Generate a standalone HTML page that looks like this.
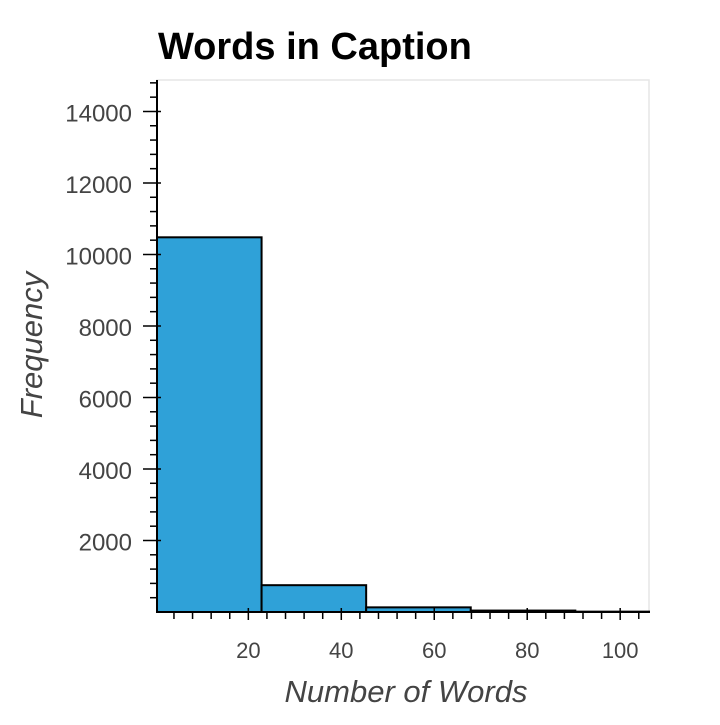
<!DOCTYPE html>
<html><head><meta charset="utf-8"><style>
body{margin:0;background:#fff;}
svg text{font-family:"Liberation Sans",Arial,sans-serif;}
</style></head><body>
<svg id="chart" width="720" height="720">
<text x="158" y="59" font-size="38" font-weight="bold" fill="#000">Words in Caption</text>
<rect x="157" y="80" width="492" height="532" fill="none" stroke="#e6e6e6" stroke-width="1.5"/>
<g id="bars"></g><g id="axes"></g>
<text x="406" y="702" font-size="31" font-style="italic" fill="#444" text-anchor="middle">Number of Words</text>
<text transform="translate(42,345) rotate(-90)" font-size="31" font-style="italic" fill="#444" text-anchor="middle">Frequency</text>
</svg>
<script>
const binEdges=[0.35,22.85,45.35,67.85,90.35,112.85];
const counts=[10480,750,130,40,10];
const xTicks=[20,40,60,80,100];
const yTicks=[2000,4000,6000,8000,10000,12000,14000];
const X0=157,X1=649,Y0=612,Y1=80;
const xMin=0.35,xMax=106.2,yMin=0,yMax=14880;
const sx=v=>X0+(v-xMin)/(xMax-xMin)*(X1-X0);
const sy=v=>Y0-(v-yMin)/(yMax-yMin)*(Y0-Y1);
const NS="http://www.w3.org/2000/svg";
function mk(tag,attrs,parent){const e=document.createElementNS(NS,tag);for(const k in attrs)e.setAttribute(k,attrs[k]);parent.appendChild(e);return e;}
const bars=document.getElementById('bars'),axes=document.getElementById('axes');
counts.forEach((c,i)=>{
  const x0=sx(binEdges[i]),x1=Math.min(sx(binEdges[i+1]),X1);
  const r=mk('rect',{x:x0,y:sy(c),width:x1-x0,height:Y0-sy(c),fill:'#2fa1d8',stroke:'#000','stroke-width':2},bars);
  
  
});
const xa=mk('line',{x1:X0,y1:Y0,x2:X1,y2:Y0,stroke:'#000','stroke-width':2},axes);


const ya=mk('line',{x1:X0,y1:Y0,x2:X0,y2:Y1,stroke:'#000','stroke-width':2},axes);


for(let v=4;v<=xMax;v+=4){
  const major=v%20===0,x=sx(v);
  const t=mk('line',{x1:x,y1:major?Y0-4:Y0,x2:x,y2:Y0+(major?8:7),stroke:'#000','stroke-width':1.5},axes);
  
  
}
xTicks.forEach(v=>{
  const t=mk('text',{x:sx(v),y:Y0+46,'font-size':22,fill:'#444','text-anchor':'middle'},axes);
  t.textContent=v;
  
  
});
for(let v=400;v<=yMax;v+=400){
  const major=v%2000===0,y=sy(v);
  const t=mk('line',{x1:X0-(major?14:7),y1:y,x2:major?X0+4:X0,y2:y,stroke:'#000','stroke-width':1.5},axes);
  
  
}
yTicks.forEach(v=>{
  const t=mk('text',{x:X0-25,y:sy(v)+10,'font-size':24,fill:'#444','text-anchor':'end'},axes);
  t.textContent=v;
  
  
});
</script>
</body></html>
